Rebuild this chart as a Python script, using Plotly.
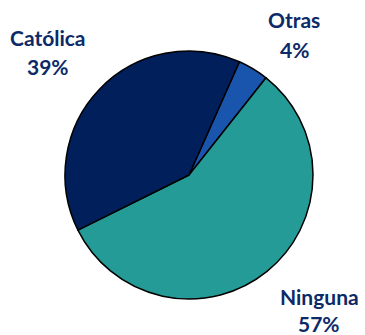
import plotly.graph_objects as go

# Religious affiliation shares (%)
labels = ["Otras", "Ninguna", "Católica"]
values = [4, 57, 39]
colors = ["#1a55ad", "#259b98", "#001f5b"]

# Label centre positions in pixels: (x, y of name line, y of percent line)
label_pos = [(294, 20, 49), (319, 296, 323), (48, 37, 66)]

W, H = 365, 335
cx, cy, r = 189, 175, 124

fig = go.Figure(go.Pie(
    labels=labels,
    values=values,
    sort=False,
    direction="clockwise",
    rotation=24,
    textinfo="none",
    hoverinfo="label+percent",
    marker=dict(colors=colors, line=dict(color="black", width=1.5)),
    domain=dict(x=[(cx - r) / W, (cx + r) / W],
                y=[(H - cy - r) / H, (H - cy + r) / H]),
))

font = dict(family="Lato", size=21, color="#0d2a68", weight="bold")
total = sum(values)
for lab, val, (px, py1, py2) in zip(labels, values, label_pos):
    for txt, py in ((lab, py1), (f"{round(100 * val / total)}%", py2)):
        fig.add_annotation(
            x=px / W, y=1 - py / H, xref="paper", yref="paper",
            xanchor="center", yanchor="middle",
            text=txt, showarrow=False, font=font,
        )

fig.update_layout(
    width=W, height=H,
    margin=dict(l=0, r=0, t=0, b=0),
    showlegend=False,
    paper_bgcolor="white",
)

fig.write_html("out.html")
